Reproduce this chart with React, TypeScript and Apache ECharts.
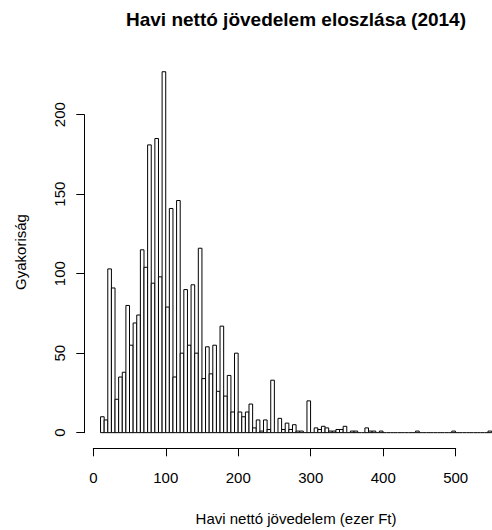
import React, { useEffect, useRef } from 'react';
import * as echarts from 'echarts';

// Histogram of monthly net income (ezer Ft), bins of 5 starting at 10
const firstBreak = 10;
const binWidth = 5;
const counts = [
  10, 8, 103, 91, 21, 35, 38, 80, 55, 69,
  74, 115, 104, 181, 94, 185, 98, 227, 79, 141,
  35, 146, 50, 90, 55, 93, 50, 116, 34, 54,
  37, 55, 26, 67, 23, 36, 13, 50, 13, 10,
  13, 18, 3, 8, 1, 8, 2, 33, 0, 9,
  2, 6, 2, 5, 1, 1, 0, 20, 0, 3,
  2, 4, 3, 1, 1, 2, 2, 4, 0, 1,
  1, 0, 0, 3, 1, 1, 0, 1, 0, 0,
  0, 0, 0, 0, 0, 0, 0, 1, 0, 0,
  0, 0, 0, 0, 0, 0, 0, 1, 0, 0,
  0, 0, 0, 0, 0, 0, 0, 1,
];
const xTickLabels = [0, 100, 200, 300, 400, 500];
const yTickLabels = [0, 50, 100, 150, 200];

const titleText = 'Havi nettó jövedelem eloszlása (2014)';
const xTitle = 'Havi nettó jövedelem (ezer Ft)';
const yTitle = 'Gyakoriság';

const FONT = '"Liberation Sans", Arial, Helvetica, sans-serif';

export default function App() {
  const ref = useRef<HTMLDivElement>(null);
  useEffect(() => {
    document.body.style.margin = '0';
    const chart = echarts.init(ref.current!, null, { renderer: 'svg' });
    const data = counts.map((c, i) => [
      firstBreak + i * binWidth,
      firstBreak + (i + 1) * binWidth,
      c,
    ]);
    const xMinData = firstBreak;
    const xMaxData = firstBreak + counts.length * binWidth;
    const xPad = (xMaxData - xMinData) * 0.04;
    const yMaxData = Math.max(...counts);
    const yPad = yMaxData * 0.04;

    const option: any = {
      animation: false,
      title: {
        text: titleText,
        left: 291,
        top: 5,
        textAlign: 'center',
        textStyle: { fontFamily: FONT, fontSize: 19, fontWeight: 'bold', color: '#000' },
      },
      grid: [
        { left: 84.9, top: 57.3, right: 0, height: 389.8, containLabel: false },
        { left: 93.3, top: 57.3, width: 362.4, height: 391, containLabel: false },
        { left: 84.3, top: 114.7, width: 380, height: 318, containLabel: false },
      ],
      xAxis: [
        {
          gridIndex: 0,
          type: 'value',
          min: xMinData - xPad,
          max: xMaxData + 0.5,
          show: false,
        },
        {
          gridIndex: 1,
          type: 'value',
          min: xTickLabels[0],
          max: xTickLabels[xTickLabels.length - 1],
          interval: xTickLabels[1] - xTickLabels[0],
          position: 'bottom',
          axisLine: { show: true, onZero: false, lineStyle: { color: '#000', width: 1 } },
          axisTick: { show: true, inside: false, length: 8, lineStyle: { color: '#000', width: 1 } },
          axisLabel: {
            show: true,
            margin: 22,
            fontFamily: FONT,
            fontSize: 15,
            color: '#000',
            showMinLabel: true,
            showMaxLabel: true,
          },
          splitLine: { show: false },
        },
        {
          gridIndex: 2,
          type: 'value',
          show: false,
          min: 0,
          max: 1,
        },
      ],
      yAxis: [
        {
          gridIndex: 0,
          type: 'value',
          min: -yPad,
          max: yMaxData + yPad,
          show: false,
        },
        {
          gridIndex: 1,
          type: 'value',
          show: false,
          min: 0,
          max: 1,
        },
        {
          gridIndex: 2,
          type: 'value',
          min: yTickLabels[0],
          max: yTickLabels[yTickLabels.length - 1],
          interval: yTickLabels[1] - yTickLabels[0],
          position: 'left',
          axisLine: { show: true, onZero: false, lineStyle: { color: '#000', width: 1 } },
          axisTick: { show: true, inside: false, length: 8, lineStyle: { color: '#000', width: 1 } },
          axisLabel: {
            show: true,
            rotate: 90,
            margin: 17,
            fontFamily: FONT,
            fontSize: 15,
            color: '#000',
            showMinLabel: true,
            showMaxLabel: true,
          },
          splitLine: { show: false },
        },
      ],
      graphic: [
        {
          type: 'text',
          x: 296,
          y: 518,
          style: {
            text: xTitle,
            font: `15px ${FONT}`,
            fill: '#000',
            align: 'center',
            verticalAlign: 'middle',
          },
        },
        {
          type: 'text',
          x: 20,
          y: 252,
          rotation: Math.PI / 2,
          style: {
            text: yTitle,
            font: `15px ${FONT}`,
            fill: '#000',
            align: 'center',
            verticalAlign: 'middle',
          },
        },
      ],
      series: [
        {
          type: 'custom',
          xAxisIndex: 0,
          yAxisIndex: 0,
          clip: false,
          encode: { x: [0, 1], y: 2 },
          data,
          renderItem: (params: any, api: any) => {
            const x0 = api.value(0);
            const x1 = api.value(1);
            const c = api.value(2);
            const p0 = api.coord([x0, 0]);
            const p1 = api.coord([x1, c]);
            if (c === 0) {
              return {
                type: 'line',
                shape: { x1: p0[0], y1: p0[1], x2: p1[0], y2: p0[1] },
                style: { stroke: '#000', lineWidth: 1 },
              };
            }
            return {
              type: 'rect',
              shape: { x: p0[0], y: p1[1], width: p1[0] - p0[0], height: p0[1] - p1[1] },
              style: { fill: '#fff', stroke: '#000', lineWidth: 1 },
            };
          },
        },
      ],
    };
    chart.setOption(option);
    return () => chart.dispose();
  }, []);
  return <div ref={ref} style={{ width: 492, height: 530 }} />;
}
